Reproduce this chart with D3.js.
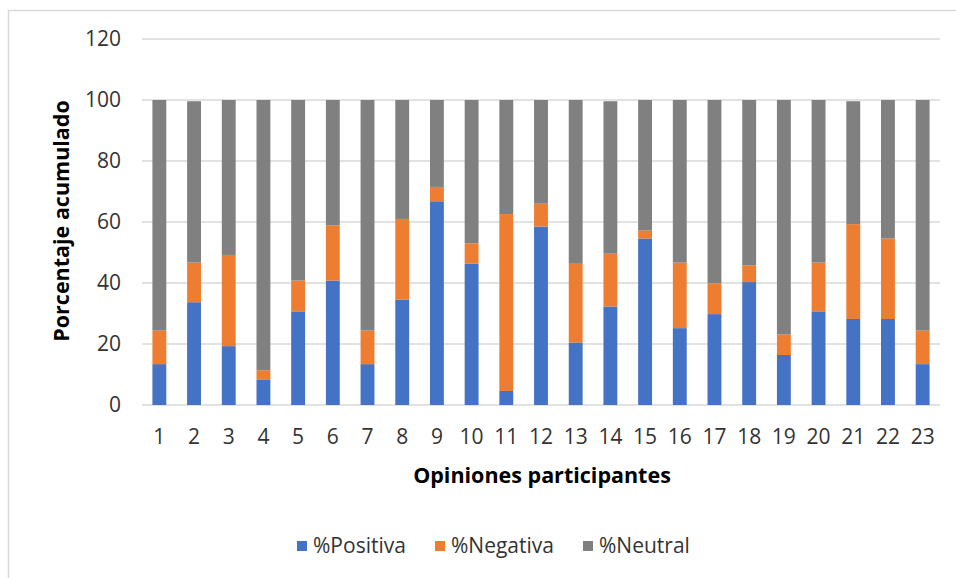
<!DOCTYPE html>
<html>
<head>
<meta charset="utf-8">
<script src="https://cdn.jsdelivr.net/npm/d3@7"></script>
<style>
  body { margin: 0; background: #fff; }
  text { font-family: "Open Sans", "Noto Sans", sans-serif; fill: #333; }
</style>
</head>
<body>
<svg id="chart" width="956" height="578"></svg>
<script>
const categories = d3.range(1, 24).map(String);
const positiva = [13.4, 33.7, 19.3, 8.4, 30.7, 40.8, 13.4, 34.5, 66.8, 46.3, 4.6, 58.5,
                  20.5, 32.3, 54.6, 25.2, 29.8, 40.3, 16.4, 30.7, 28.2, 28.2, 13.4];
const negativa = [11.0, 13.0, 29.9, 3.0, 10.1, 18.1, 11.0, 26.5, 4.7, 6.7, 58.0, 7.5,
                  25.8, 17.3, 2.6, 21.5, 10.1, 5.5, 6.7, 16.0, 31.1, 26.4, 11.0];
const neutral  = [75.6, 52.9, 50.8, 88.6, 59.2, 41.1, 75.6, 39.0, 28.5, 47.0, 37.4, 34.0,
                  53.7, 50.0, 42.8, 53.3, 60.1, 54.2, 76.9, 53.3, 40.3, 45.4, 75.6];
const seriesNames = ["%Positiva", "%Negativa", "%Neutral"];
const colors = ["#4472C4", "#ED7D31", "#808080"];
const yTicks = [0, 20, 40, 60, 80, 100, 120];

const svg = d3.select("#chart");

// chart frame
svg.append("rect")
  .attr("x", 8.5).attr("y", 10.5)
  .attr("width", 960).attr("height", 600)
  .attr("fill", "none").attr("stroke", "#d9d9d9").attr("stroke-width", 1.5);

const plotLeft = 142, plotRight = 940, plotTop = 39, plotBottom = 405;

const x = d3.scaleBand().domain(categories).range([plotLeft, plotRight]).paddingInner(0.6).paddingOuter(0.3);
const y = d3.scaleLinear().domain([0, 120]).range([plotBottom, plotTop]);

// gridlines
svg.append("g")
  .selectAll("line")
  .data(yTicks)
  .join("line")
  .attr("x1", plotLeft).attr("x2", plotRight)
  .attr("y1", d => y(d)).attr("y2", d => y(d))
  .attr("stroke", "#d9d9d9").attr("stroke-width", 1.5);

// y tick labels
svg.append("g")
  .selectAll("text")
  .data(yTicks)
  .join("text")
  .attr("x", 121).attr("y", d => y(d))
  .attr("dy", "0.35em")
  .attr("text-anchor", "end")
  .attr("font-size", 21)
  .text(d => d);

// stacked bars
const rows = categories.map((c, i) => ({ cat: c, pos: positiva[i], neg: negativa[i], neu: neutral[i] }));
const stack = d3.stack().keys(["pos", "neg", "neu"]);
const layers = stack(rows);

svg.append("g")
  .selectAll("g")
  .data(layers)
  .join("g")
  .attr("fill", (d, i) => colors[i])
  .selectAll("rect")
  .data(d => d)
  .join("rect")
  .attr("x", d => x(d.data.cat))
  .attr("width", x.bandwidth())
  .attr("y", d => y(d[1]))
  .attr("height", d => y(d[0]) - y(d[1]));

// x tick labels
svg.append("g")
  .selectAll("text")
  .data(categories)
  .join("text")
  .attr("x", d => x(d) + x.bandwidth() / 2)
  .attr("y", 437)
  .attr("dy", "0.35em")
  .attr("text-anchor", "middle")
  .attr("font-size", 21)
  .text(d => d);

// axis titles
svg.append("text")
  .attr("x", 542).attr("y", 475)
  .attr("dy", "0.35em")
  .attr("text-anchor", "middle")
  .attr("font-size", 21.5).attr("font-weight", "bold")
  .style("fill", "#000")
  .text("Opiniones participantes");

svg.append("text")
  .attr("transform", "translate(61,221) rotate(-90)")
  .attr("dy", "0.35em")
  .attr("text-anchor", "middle")
  .attr("font-size", 21.5).attr("font-weight", "bold")
  .style("fill", "#000")
  .text("Porcentaje acumulado");

// legend
const legendX = [297, 435, 583];
const legend = svg.append("g")
  .selectAll("g")
  .data(seriesNames)
  .join("g")
  .attr("transform", (d, i) => `translate(${legendX[i]},546)`);

legend.append("rect")
  .attr("x", 0).attr("y", -5)
  .attr("width", 10).attr("height", 10)
  .attr("fill", (d, i) => colors[i]);

legend.append("text")
  .attr("x", 16).attr("y", 0)
  .attr("dy", "0.35em")
  .attr("font-size", 21)
  .text(d => d);
</script>
</body>
</html>
